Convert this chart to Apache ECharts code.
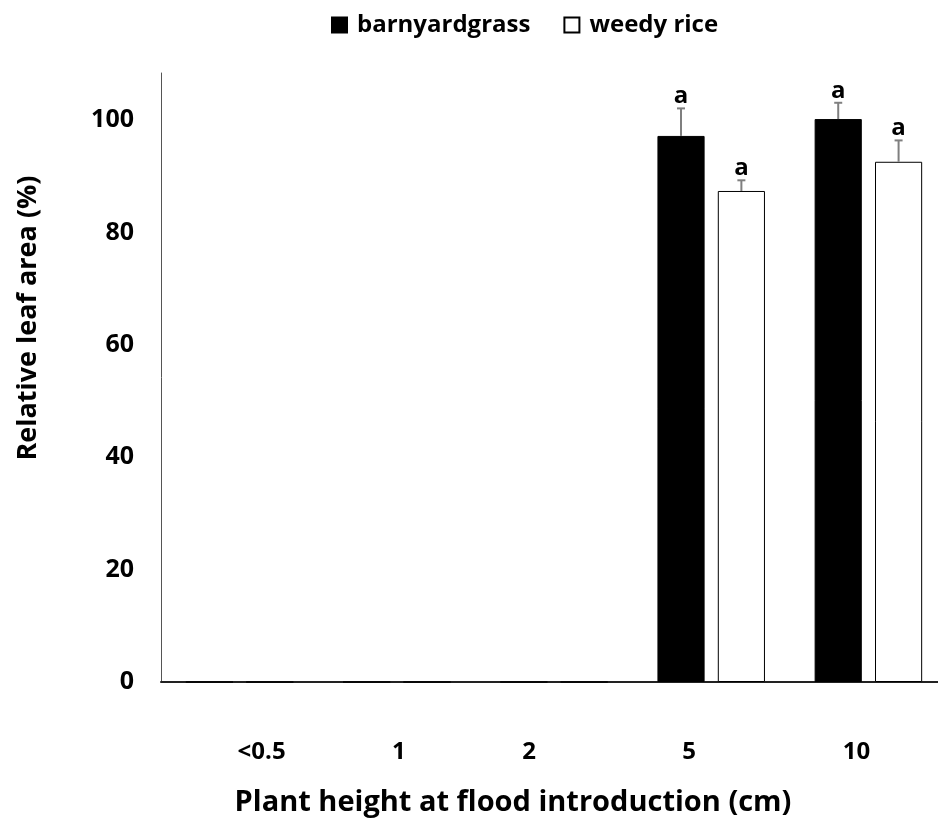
<!DOCTYPE html>
<html>
<head>
<meta charset="utf-8">
<script src="https://cdn.jsdelivr.net/npm/echarts@6/dist/echarts.min.js"></script>
<style>
html,body{margin:0;padding:0;background:#fff;}
#chart{width:938px;height:838px;}
</style>
</head>
<body>
<div id="chart"></div>
<script>
var categories = ['<0.5', '1', '2', '5', '10'];
var barnyardgrass = [0, 0, 0, 97.2, 100.2];
var weedyRice = [0, 0, 0, 87.4, 92.6];
var barnyardgrassErr = [null, null, null, 4.9, 2.9];
var weedyRiceErr = [null, null, null, 1.9, 3.8];
var barnyardgrassLetters = ['', '', '', 'a', 'a'];
var weedyRiceLetters = ['', '', '', 'a', 'a'];
var yTicks = [0, 20, 40, 60, 80, 100];

var FONT = '"Open Sans", sans-serif';
var BAR_W = 0.30, BAR_GAP = 0.28;
// per-label horizontal shift (styling, to match reference placement)
var labelShift = [22, 2, -25, -22, -12];

function errSeries(name, vals, errs, letters, sign) {
  var data = [];
  for (var i = 0; i < categories.length; i++) {
    if (errs[i] != null) data.push([i, vals[i], errs[i], letters[i]]);
  }
  return {
    type: 'custom',
    name: name + ' err',
    z: 5,
    data: data,
    renderItem: function (params, api) {
      var idx = api.value(0), v = api.value(1), e = api.value(2);
      var letter = data[params.dataIndex][3];
      var band = api.size([1, 0])[0];
      var off = sign * band * BAR_W * (1 + BAR_GAP) / 2;
      var base = api.coord([idx, v]);
      var top = api.coord([idx, v + e]);
      var x = base[0] + off;
      var style = {stroke: '#7f7f7f', lineWidth: 2};
      return {
        type: 'group',
        children: [
          {type: 'line', shape: {x1: x, y1: base[1], x2: x, y2: top[1]}, style: style},
          {type: 'line', shape: {x1: x - 4, y1: top[1], x2: x + 4, y2: top[1]}, style: style},
          {type: 'text', x: x, y: top[1] - 12, style: {text: letter, align: 'center', verticalAlign: 'middle', font: 'bold 24px ' + FONT, fill: '#000'}}
        ]
      };
    }
  };
}

var rich = {};
labelShift.forEach(function (s, i) {
  rich['l' + i] = {
    fontSize: 24, fontWeight: 'bold', fontFamily: FONT, color: '#000',
    padding: s >= 0 ? [0, 0, 0, 2 * s] : [0, -2 * s, 0, 0]
  };
});

var chart = echarts.init(document.getElementById('chart'), null, {renderer: 'canvas'});
chart.setOption({
  animation: false,
  backgroundColor: '#fff',
  legend: {
    left: 331, top: 13, padding: 0,
    itemWidth: 15, itemHeight: 15, itemGap: 33,
    icon: 'rect',
    textStyle: {fontFamily: FONT, fontWeight: 'bold', fontSize: 24, color: '#000', padding: [0, 0, 0, 5]},
    data: ['barnyardgrass', 'weedy rice']
  },
  grid: {left: 161, width: 786, top: 73, bottom: 156, containLabel: false, outerBoundsMode: 'none'},
  xAxis: {
    type: 'category',
    data: categories,
    axisLine: {lineStyle: {color: '#222', width: 2}},
    axisTick: {show: false},
    axisLabel: {
      margin: 58,
      hideOverlap: false,
      formatter: function (v, i) { return '{l' + i + '|' + v + '}'; },
      rich: rich
    }
  },
  yAxis: {
    type: 'value',
    min: 0, max: 108.4, interval: 20,
    splitLine: {show: false},
    axisTick: {show: false},
    axisLine: {show: true, lineStyle: {color: '#555', width: 1}},
    axisLabel: {
      margin: 27,
      fontFamily: FONT, fontWeight: 'bold', fontSize: 25, color: '#000',
      formatter: function (v) { return yTicks.indexOf(v) >= 0 ? String(v) : ''; }
    }
  },
  graphic: [
    {type: 'text', x: 28, y: 318, rotation: Math.PI / 2,
     style: {text: 'Relative leaf area (%)', align: 'center', verticalAlign: 'middle', font: 'bold 27px ' + FONT, fill: '#000'}},
    {type: 'text', x: 513, y: 803,
     style: {text: 'Plant height at flood introduction (cm)', align: 'center', verticalAlign: 'middle', font: 'bold 29px ' + FONT, fill: '#000'}}
  ],
  series: [
    {
      name: 'barnyardgrass', type: 'bar', data: barnyardgrass,
      barWidth: (BAR_W * 100) + '%', barGap: (BAR_GAP * 100) + '%',
      itemStyle: {color: '#000', borderColor: '#000', borderWidth: 1}
    },
    {
      name: 'weedy rice', type: 'bar', data: weedyRice,
      barWidth: (BAR_W * 100) + '%', barGap: (BAR_GAP * 100) + '%',
      itemStyle: {color: '#fff', borderColor: '#000', borderWidth: 1}
    },
    errSeries('barnyardgrass', barnyardgrass, barnyardgrassErr, barnyardgrassLetters, -1),
    errSeries('weedy rice', weedyRice, weedyRiceErr, weedyRiceLetters, 1)
  ]
});
</script>
</body>
</html>
